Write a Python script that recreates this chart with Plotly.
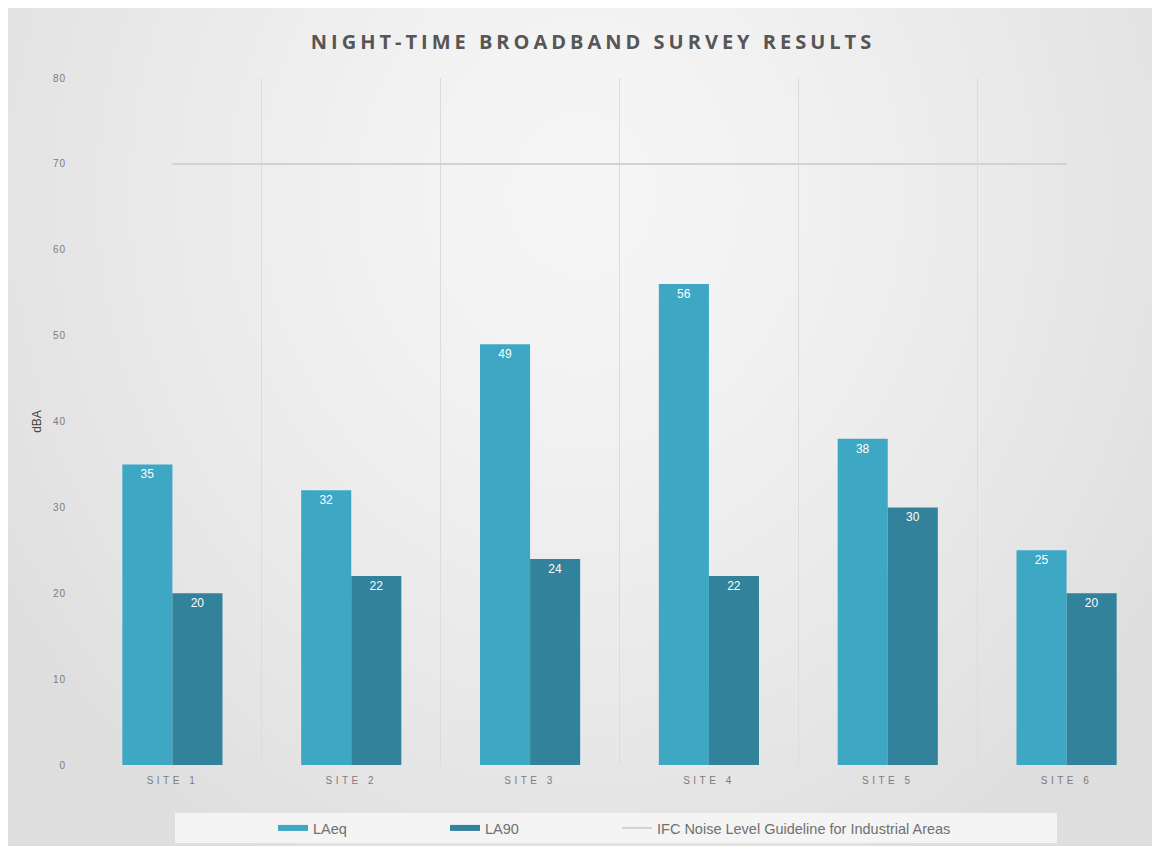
import base64
import struct
import zlib

import numpy as np
import plotly.graph_objects as go

# Survey sites and measured night-time levels (dBA)
sites = ["SITE 1", "SITE 2", "SITE 3", "SITE 4", "SITE 5", "SITE 6"]
laeq = [35, 32, 49, 56, 38, 25]
la90 = [20, 22, 24, 22, 30, 20]
guideline_level = 70
y_ticks = [0, 10, 20, 30, 40, 50, 60, 70, 80]

c_laeq = "#3DA7C4"
c_la90 = "#31829A"
c_guide = "#D0D3D3"

# plot-area geometry in pixels (used to place paper-referenced extras)
W, H = 1161, 852
L, R, T, B = 83, 5, 78, 87
PW, PH = W - L - R, H - T - B


def px_x(x):
    return (x - L) / PW


def px_y(y):
    return (H - B - y) / PH


def gradient_png(w, h):
    """Soft radial grey backdrop encoded as a PNG data URI."""
    yy, xx = np.mgrid[0:h, 0:w]
    cx, cy = 0.50 * w, 0.22 * h
    r = np.sqrt(((xx - cx) / (0.62 * w)) ** 2 + ((yy - cy) / (0.95 * h)) ** 2)
    v = np.clip(246 - 24 * r ** 1.4, 222, 246).astype(np.uint8)
    rgb = np.dstack([v, v, v])
    raw = b"".join(b"\x00" + row.tobytes() for row in rgb)

    def chunk(tag, data):
        c = struct.pack(">I", len(data)) + tag + data
        return c + struct.pack(">I", zlib.crc32(tag + data) & 0xFFFFFFFF)

    png = b"\x89PNG\r\n\x1a\n"
    png += chunk(b"IHDR", struct.pack(">IIBBBBB", w, h, 8, 2, 0, 0, 0))
    png += chunk(b"IDAT", zlib.compress(raw, 9))
    png += chunk(b"IEND", b"")
    return "data:image/png;base64," + base64.b64encode(png).decode()


fig = go.Figure()

label_font = dict(color="white", size=12, family="Liberation Sans")
fig.add_trace(go.Bar(
    x=sites, y=laeq, name="LAeq", marker=dict(color=c_laeq, line_width=0),
    text=[str(v) for v in laeq], textposition="inside", insidetextanchor="end",
    textfont=label_font, showlegend=False,
))
fig.add_trace(go.Bar(
    x=sites, y=la90, name="LA90", marker=dict(color=c_la90, line_width=0),
    text=[str(v) for v in la90], textposition="inside", insidetextanchor="end",
    textfont=label_font, showlegend=False,
))
fig.add_trace(go.Scatter(
    x=sites, y=[guideline_level] * len(sites), mode="lines",
    name="IFC Noise Level Guideline for Industrial Areas",
    line=dict(color=c_guide, width=2), legend="legend3",
))
# wide flat swatches for the two bar series
fig.add_trace(go.Scatter(x=[None], y=[None], mode="lines", name="LAeq",
                         line=dict(color=c_laeq, width=6), legend="legend"))
fig.add_trace(go.Scatter(x=[None], y=[None], mode="lines", name="LA90",
                         line=dict(color=c_la90, width=6), legend="legend2"))

# backdrop panel and legend strip
fig.add_layout_image(
    source=gradient_png(286, 210), xref="paper", yref="paper",
    x=px_x(8), y=px_y(8), sizex=(1152 - 8) / PW, sizey=(846 - 8) / PH,
    xanchor="left", yanchor="top", sizing="stretch", layer="below",
)
fig.add_shape(type="rect", xref="paper", yref="paper",
              x0=px_x(175), x1=px_x(1057), y0=px_y(843), y1=px_y(813),
              fillcolor="#F4F4F4", line_width=0, layer="below")

legend_common = dict(orientation="h", y=px_y(828), yanchor="middle", xanchor="left",
                     bgcolor="rgba(0,0,0,0)",
                     font=dict(size=14.5, color="#707070", family="Liberation Sans"))

fig.update_layout(
    width=W, height=H,
    margin=dict(l=L, r=R, t=T, b=B),
    paper_bgcolor="white",
    plot_bgcolor="rgba(0,0,0,0)",
    barmode="group", bargap=0.44, bargroupgap=0,
    title=dict(text="<b>NIGHT-TIME BROADBAND SURVEY RESULTS</b>",
               x=593 / W, xref="container", xanchor="center",
               y=1 - 42 / H, yref="container", yanchor="middle",
               font=dict(family="Open Sans", size=20, color="#565656")),
    font=dict(family="Liberation Sans", color="#777777"),
    showlegend=True,
    legend=dict(x=px_x(273), **legend_common),
    legend2=dict(x=px_x(445), **legend_common),
    legend3=dict(x=px_x(617), **legend_common),
)

fig.update_xaxes(
    type="category", tickson="boundaries", showgrid=True, gridcolor="#DCDCDC", gridwidth=1,
    showline=False, zeroline=False, ticks="", ticklabelstandoff=8,
    tickfont=dict(size=10, color="#7C7C7C"),
)
fig.update_yaxes(
    range=[0, 80], tickvals=y_ticks, showgrid=False, zeroline=False, showline=False,
    tickfont=dict(size=10, color="#7C7C7C"), ticklabelstandoff=16,
    title=dict(text="dBA", font=dict(size=12, color="#444444"), standoff=10),
)

# spaced-out lettering for the title and category labels
post = """
var gd = document.getElementById('{plot_id}');
function spacing() {
  gd.querySelectorAll('.gtitle').forEach(function(e){ e.style.letterSpacing = '4px'; });
  gd.querySelectorAll('.xtick text').forEach(function(e){ e.style.letterSpacing = '3.5px'; });
  gd.querySelectorAll('.ytick text').forEach(function(e){ e.style.letterSpacing = '1px'; });
}
spacing();
gd.on('plotly_afterplot', spacing);
"""

fig.write_html("out.html", post_script=post)
